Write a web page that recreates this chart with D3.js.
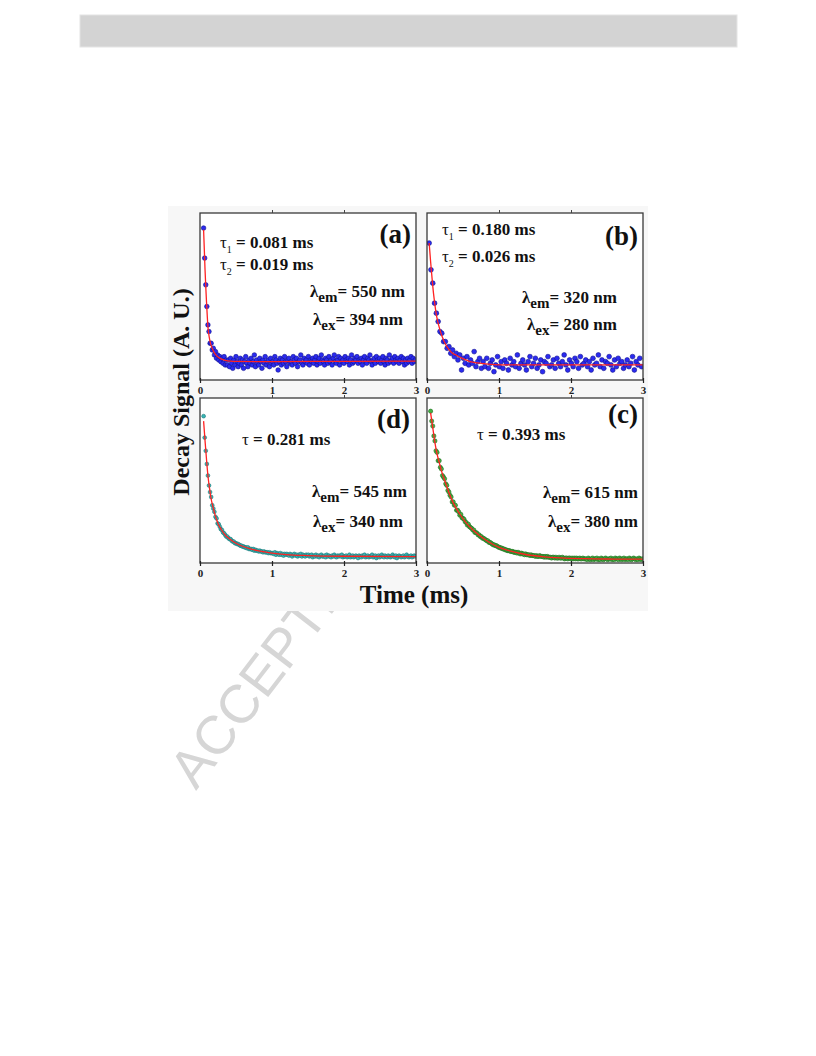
<!DOCTYPE html>
<html><head><meta charset="utf-8">
<script src="https://cdn.jsdelivr.net/npm/d3@7"></script>
<style>body{margin:0;background:#fff}</style>
</head><body>
<svg id="c" width="816" height="1056"></svg>
<script>
// ---------------- DATA ----------------
const timeTicks = [0, 1, 2, 3];
const xLabel = "Time (ms)";
const yLabel = "Decay Signal (A. U.)";
const watermarkText = "ACCEPTED MANUSCRIPT";

// panel (a): sampled signal, start time and sampling interval (ms)
const aStart = 0.05, aStep = 0.015;
const aSignal = [91,73,57,44,33,29,22,22,18,19,15,17,13,15,12,14,11,13,10,14,9,12,
9,12,8,13,10,7,12,9,14,11,8,10,13,9,12,7,11,14,10,8,
12,10,13,9,11,15,8,12,10,9,13,11,7,12,10,14,9,11,12,8,
13,10,11,9,14,12,10,6,11,13,9,12,10,14,11,8,12,13,10,11,
9,14,12,10,13,8,11,12,15,10,9,13,11,12,10,14,9,12,11,13,
10,12,14,9,11,13,10,15,12,11,9,13,12,10,14,11,12,9,13,15,
11,10,12,14,9,13,11,12,10,14,12,11,13,9,12,15,10,11,13,12,
14,10,12,11,13,9,12,14,11,10,13,12,15,11,9,12,13,10,14,12,
11,13,10,12,14,11,9,13,12,10,15,11,12,13,10,14,12,11,13,10,
12,14,11,13,9,12,10,13,11,12,14,10,13,11,12];
const aFitT = [0.05,0.06,0.07,0.08,0.09,0.1,0.11,0.12,0.14,0.16,0.19,0.22,0.26,0.3,0.35,0.42,0.5,1.0,2.0,3.0];
const aFitV = [90,78,66,56,47,39,32,28,23,20,17,15,13.5,12.5,11.8,11.3,11.1,11,11.2,11.3];
const aNotes = [["τ","1"," = 0.081 ms"],["τ","2"," = 0.019 ms"],["λ","em","= 550 nm"],["λ","ex","= 394 nm"]];

// panel (b)
const bStart = 0.03, bStep = 0.025;
const bSignal = [82,66,58,46,40,35,29,28,23,23,19,20,16,18,14,16,12,15,6,13,10,14,9,12,10,17,8,11,13,7,
11,8,13,7,10,12,5,9,14,8,11,7,12,10,6,13,9,11,8,15,
7,10,12,9,6,11,14,8,10,13,7,9,12,5,11,10,14,8,9,12,
7,13,10,8,11,15,9,6,12,10,8,13,11,7,14,9,10,12,8,11,
6,13,9,10,15,8,12,7,11,10,14,9,6,12,8,13,10,11,7,9,
12,8,10,14,6,11,9,13,8];
const bFitT = [0.03,0.05,0.07,0.09,0.11,0.13,0.15,0.18,0.21,0.25,0.3,0.35,0.4,0.5,0.6,0.7,0.85,1.0,2.0,3.0];
const bFitV = [82,71,61,52,45,39,35,30,26,22,18.5,16.2,15,12.8,11,10.3,9.5,9.1,9,9];
const bNotes = [["τ","1"," = 0.180 ms"],["τ","2"," = 0.026 ms"],["λ","em","= 320 nm"],["λ","ex","= 280 nm"]];

// panel (d)
const dStart = 0.05, dStep = 0.015;
const dSignal = [89,76,68,60,53,47,43,40,35,33,31,28,27,24,23.5,22,20.5,20,18.5,18,
17,16,16,15,14.5,14.5,13.5,13,13,12,12,11.5,11.5,11,10.5,10.5,10,10,9.5,9.5,
9,9.5,8.5,8.5,8.5,8,8.5,7.5,8,7.5,7.5,7,7.5,7,7,6.5,7,6.5,6.5,6.5,6,6.5,6,6,
6,5.5,6.5,5,6,5.5,5,6,5,5.5,4.5,5.5,5,5.5,
5,4.5,5.5,5,4,5,5.5,4.5,5,4,5,4.5,5.5,4,5,4.5,4,5,4.5,5,
4,4.5,5,3.5,4.5,4,5,4,4.5,3.5,4.5,5,4,4,4.5,3.5,5,4,4.5,4,3.5,4.5,4,5,4,3.5,4.5,4,4.5,4,5,3.5,4,
4,4.5,3.5,4,5,3.5,4,4.5,3.5,4,4.5,4,3,4.5,4,3.5,4.5,4,5,3.5,
4,4.5,3.5,4,4,5,3.5,4,4.5,3,4,4.5,3.5,4,5,4,3.5,4.5,4,3.5,
4.5,4,3.5,4,5,4,3.5,4.5,3,4,4.5,4,3.5,4,4.5,3.5,4,5,4,3.5,
4,4.5,3.5,4,4.5,4];
const dFitT = [0.05,0.07,0.09,0.11,0.13,0.15,0.18,0.21,0.25,0.3,0.35,0.4,0.45,0.5,0.6,0.7,0.8,0.9,1.0,1.2,1.5,2.0,3.0];
const dFitV = [86,74,63,53,46,40,34,29,24,20,17,15,13.3,12,10,8.6,7.5,6.7,6,5.1,4.5,4.1,3.9];
const dNotes = [["τ",""," = 0.281 ms"],["λ","em","= 545 nm"],["λ","ex","= 340 nm"]];

// panel (c)
const cStart = 0.05, cStep = 0.015;
const cSignal = [92,86,83,77,74,68,67,62,62,58,57,53,52,51,48,47,44,43,41,40,
37,37,35,35,32,32,31,29,29.5,27.5,27,26.5,25,24.5,23,23.5,22,21.5,21,20,
20,18.5,18.5,18,17,17,16,16,15,15,14.5,14,13.5,13.5,12.5,12.5,12,11.5,11,11,
10.5,10.5,10,9.5,9.5,9,9,8.5,8.5,8,8,7.5,7.5,7.5,7,7,7,6.5,6.5,6.5,
6,6.5,6,5.5,6,5.5,5.5,5,5.5,5,5,
5,4.5,5,4.5,4.5,4.5,4,4.5,4,4,4.5,4,4,
4,3.5,4,3.5,4,3.5,3.5,3.5,3,3.5,3.5,3,3.5,3,3,3.5,
3,3,3.5,3,2.5,3,3,2.5,3,3,2.5,3,2.5,3,2.5,3,2.5,2.5,3,2.5,2.5,3,2.5,2.5,
2.5,2,3,2.5,2,2.5,3,2,2.5,2.5,3,2,2.5,2,3,2.5,2,2.5,3,2.5,
2,2.5,2.5,3,2,2.5,2,3,2.5,2.5,2,3,2.5,2,2.5,3,2,2.5,2.5,2,
3,2.5,2,2.5,3,2.5,2,2.5,2,3,2.5,2,2.5];
const cFitT = [0.05,0.08,0.11,0.14,0.17,0.2,0.23,0.27,0.31,0.37,0.45,0.55,0.65,0.78,0.9,1.0,1.15,1.39,1.6,1.85,2.2,2.6,3.0];
const cFitV = [91,82,73,66,61,56,52,47,42,36,30,24,19.5,15,11.7,9.5,7.3,5,3.9,3.1,2.6,2.4,2.3];
const cNotes = [["τ",""," = 0.393 ms"],["λ","em","= 615 nm"],["λ","ex","= 380 nm"]];

// ---------------- LAYOUT / STYLE ----------------
const serif = "'Liberation Serif','Times New Roman',serif";
const panels = [
  {label:"(a)", start:aStart, step:aStep, signal:aSignal, fitT:aFitT, fitV:aFitV, notes:aNotes,
   box:[200,213,216,167], r:2.3, fill:"#2b2bef", stroke:"#121290",
   labelPos:[411,243], notePos:[[220,248],[220,270],[310,297],[313,325]]},
  {label:"(b)", start:bStart, step:bStep, signal:bSignal, fitT:bFitT, fitV:bFitV, notes:bNotes,
   box:[427,213,216,167], r:2.4, fill:"#2b2bef", stroke:"#121290",
   labelPos:[638,245], notePos:[[442,235],[442,262],[522,303],[527,330]]},
  {label:"(d)", start:dStart, step:dStep, signal:dSignal, fitT:dFitT, fitV:dFitV, notes:dNotes,
   box:[200,398,216,165], r:1.9, fill:"#3ab5b5", stroke:"#1c7a7a",
   labelPos:[410,428], notePos:[[242,445],[312,497],[313,527]]},
  {label:"(c)", start:cStart, step:cStep, signal:cSignal, fitT:cFitT, fitV:cFitV, notes:cNotes,
   box:[427,398,216,165], r:2.1, fill:"#44b044", stroke:"#207020",
   labelPos:[638,423], notePos:[[477,440],[543,498],[548,527]]}
];

// ---------------- DRAW ----------------
const svg = d3.select("#c");
svg.append("rect").attr("x",80).attr("y",15).attr("width",657).attr("height",32)
  .attr("fill","#d3d3d3").attr("stroke","#e4e4e4");

svg.append("text").attr("transform","translate(196,791) rotate(-52.5)")
  .attr("font-family","'Liberation Sans',Arial,sans-serif").attr("font-size",54)
  .attr("fill","#d6d6d6").text(watermarkText);

svg.append("rect").attr("x",168).attr("y",206).attr("width",480).attr("height",405).attr("fill","#f7f7f7");

panels.forEach((p, pi) => {
  const [x0,y0,w,h] = p.box;
  const xs = d3.scaleLinear().domain([0,3]).range([x0, x0+w]);
  const ys = d3.scaleLinear().domain([0,100]).range([y0+h, y0]);
  const g = svg.append("g");
  g.append("rect").attr("x",x0).attr("y",y0).attr("width",w).attr("height",h).attr("fill","#fff");
  const cid = "clip"+pi;
  g.append("clipPath").attr("id",cid).append("rect").attr("x",x0).attr("y",y0).attr("width",w).attr("height",h);
  const pts = p.signal.map((v,i)=>[p.start + i*p.step, v]).filter(d=>d[0] <= 3);
  const inner = g.append("g").attr("clip-path",`url(#${cid})`);
  inner.selectAll("circle").data(pts).join("circle")
    .attr("cx",d=>xs(d[0])).attr("cy",d=>ys(d[1])).attr("r",p.r)
    .attr("fill",p.fill).attr("stroke",p.stroke).attr("stroke-width",0.6);
  const fit = p.fitT.map((t,i)=>[t,p.fitV[i]]);
  inner.append("path").datum(fit)
    .attr("d", d3.line().x(d=>xs(d[0])).y(d=>ys(d[1])).curve(d3.curveMonotoneX))
    .attr("fill","none").attr("stroke","#ff2222").attr("stroke-width",1.3);
  g.append("rect").attr("x",x0).attr("y",y0).attr("width",w).attr("height",h)
    .attr("fill","none").attr("stroke","#3a3a3a").attr("stroke-width",1.3);

  const ax = g.append("g").attr("transform",`translate(0,${y0+h-2})`)
    .call(d3.axisBottom(xs).tickValues(timeTicks).tickFormat(d3.format("d")).tickSize(5).tickPadding(3));
  ax.select(".domain").remove();
  ax.selectAll("line").attr("stroke","#222").attr("stroke-width",1.2);
  ax.selectAll("text").attr("font-family",serif).attr("font-weight","bold").attr("font-size",11).attr("fill","#222");
  const at = g.append("g").attr("transform",`translate(0,${y0})`)
    .call(d3.axisTop(xs).tickValues(timeTicks.slice(1,3)).tickFormat("").tickSize(3));
  at.select(".domain").remove();
  at.selectAll("line").attr("stroke","#444").attr("stroke-width",1);

  g.append("text").attr("x",p.labelPos[0]).attr("y",p.labelPos[1]).attr("text-anchor","end")
    .attr("font-family",serif).attr("font-weight","bold").attr("font-size",27).attr("fill","#111").text(p.label);

  p.notes.forEach((n,j)=>{
    const isTau = n[0] === "τ";
    const t = g.append("text").attr("x",p.notePos[j][0]).attr("y",p.notePos[j][1])
      .attr("font-family",serif).attr("font-weight","bold").attr("font-size",17).attr("fill","#111");
    t.append("tspan").attr("font-weight", isTau ? "normal" : "bold").text(n[0]);
    if (n[1]) {
      t.append("tspan").attr("font-size", isTau ? 10 : 15).attr("font-weight", isTau ? "normal":"bold")
        .attr("dy", 5).text(n[1]);
      t.append("tspan").attr("dy",-5).text(n[2]);
    } else {
      t.append("tspan").text(n[2]);
    }
  });
});

svg.append("text").attr("x",414).attr("y",603).attr("text-anchor","middle")
  .attr("font-family",serif).attr("font-weight","bold").attr("font-size",25).attr("fill","#111").text(xLabel);
svg.append("text").attr("transform","translate(189,392) rotate(-90)").attr("text-anchor","middle")
  .attr("font-family",serif).attr("font-weight","bold").attr("font-size",24).attr("fill","#111").text(yLabel);
</script>
</body></html>
